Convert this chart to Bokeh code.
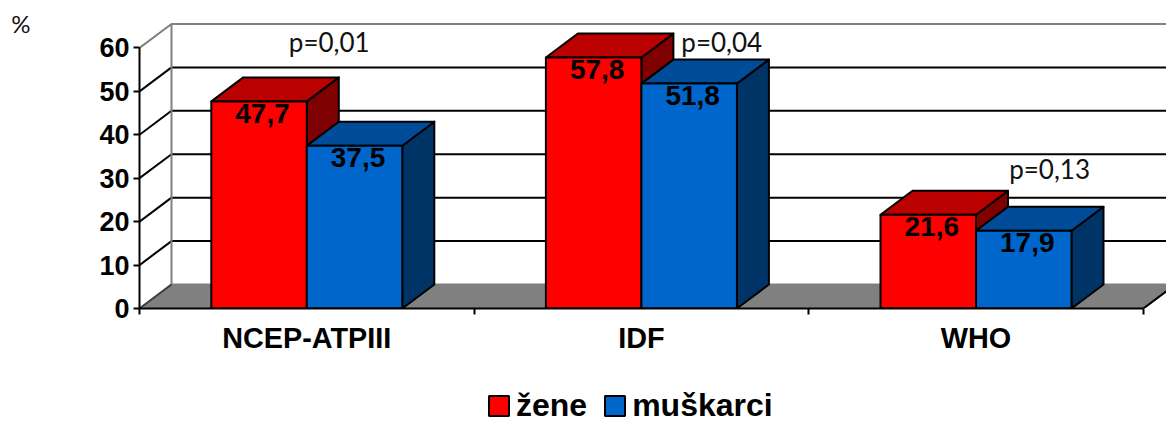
from bokeh.plotting import figure
from bokeh.layouts import column
from bokeh.models import Legend, LegendItem, FixedTicker, ColumnDataSource, LinearAxis
from bokeh.core.properties import value
from bokeh.embed import file_html
from bokeh.resources import INLINE

categories = ["NCEP-ATPIII", "IDF", "WHO"]
zene = [47.7, 57.8, 21.6]
muskarci = [37.5, 51.8, 17.9]
p_values = ["p=0,01", "p=0,04", "p=0,13"]
p_x = [0.567, 1.74, 2.72]
p_y = [61.4, 61.4, 32.2]
y_ticks = [0, 10, 20, 30, 40, 50, 60]
series_names = ["žene", "muškarci"]
series_colors = ["#FF0000", "#0066CC"]
unit_label = "%"
unit_label_at = 65.6

PX_X = 334.6
PX_Y = 4.342
DX = 32 / PX_X
DY = 24 / PX_Y
BAR = 95.5 / PX_X
SANS = "Liberation Sans"

p = figure(width=1166, height=385, output_backend="svg", toolbar_location=None,
           x_range=(0, 1027 / PX_X), y_range=(0, 293 / PX_Y),
           min_border_left=139, min_border_right=0, min_border_top=15, min_border_bottom=77)
p.grid.visible = False
p.outline_line_color = None
p.background_fill_color = "white"
p.border_fill_color = "white"

n = len(categories)
p.patch([0, DX, n + DX, n], [0, DY, DY, 0], fill_color="#808080", line_color="#808080", line_width=2)
inner = y_ticks[1:-1]
p.segment([DX] * len(inner), [v + DY for v in inner], [n + DX] * len(inner), [v + DY for v in inner],
          line_color="black", line_width=2)
p.segment([0] * len(inner), inner, [DX] * len(inner), [v + DY for v in inner], line_color="black", line_width=2)
top = y_ticks[-1]
p.line([0, DX, n + DX], [top, top + DY, top + DY], line_color="#808080", line_width=2)
p.line([DX, DX], [DY, top + DY], line_color="#808080", line_width=2)
p.line([0, DX], [0, DY], line_color="#404040", line_width=2)
p.line([n, n + DX], [0, DY], line_color="black", line_width=2)


def bars(vals, left_fn, front, topc, side):
    sx, sy, tx, ty = [], [], [], []
    l, r, t = [], [], []
    for i, v in enumerate(vals):
        x0 = left_fn(i)
        x1 = x0 + BAR
        sx.append([x1, x1 + DX, x1 + DX, x1])
        sy.append([v, v + DY, DY, 0])
        tx.append([x0, x0 + DX, x1 + DX, x1])
        ty.append([v, v + DY, v + DY, v])
        l.append(x0); r.append(x1); t.append(v)
    p.patches(sx, sy, fill_color=side, line_color="black", line_width=2, line_join="round")
    p.patches(tx, ty, fill_color=topc, line_color="black", line_width=2, line_join="round")
    p.quad(left=l, right=r, top=t, bottom=[0] * len(t), fill_color=front,
           line_color="black", line_width=2)


bars(zene, lambda i: i + 0.5 - BAR, series_colors[0], "#BB0000", "#7F0000")
bars(muskarci, lambda i: i + 0.5, series_colors[1], "#004C99", "#003366")

for vals, shift in ((zene, -BAR / 2), (muskarci, BAR / 2)):
    src = ColumnDataSource(dict(x=[i + 0.5 + shift for i in range(n)], y=vals,
                                t=[f"{v:.1f}".replace(".", ",") for v in vals]))
    p.text("x", "y", text="t", source=src, text_align="center", text_baseline="middle",
           x_offset=3.5, y_offset=12, text_font=value(SANS), text_font_style="bold",
           text_font_size="28px", text_color="black")

p.text(p_x, p_y, text=p_values, text_align="center", text_baseline="middle",
       text_font=value("Lato"), text_font_size="26px", text_color="#111111")

ya = p.yaxis[0]
ya.ticker = FixedTicker(ticks=y_ticks)
ya.bounds = (y_ticks[0], y_ticks[-1])
ya.axis_line_color = "black"; ya.axis_line_width = 2
ya.major_tick_line_color = "black"; ya.major_tick_line_width = 2
ya.major_tick_out = 6; ya.major_tick_in = 0
ya.minor_tick_line_color = None
ya.major_label_text_font = SANS; ya.major_label_text_font_style = "bold"
ya.major_label_text_font_size = "27px"; ya.major_label_text_color = "black"
ya.major_label_standoff = 4

ua = LinearAxis(ticker=FixedTicker(ticks=[unit_label_at]),
                major_label_overrides={unit_label_at: unit_label},
                axis_line_color=None, major_tick_line_color=None, minor_tick_line_color=None,
                major_label_text_font="Lato", major_label_text_font_size="24px",
                major_label_text_color="#111111", major_label_standoff=60)
p.add_layout(ua, "left")

xa = p.xaxis[0]
centers = [i + 0.5 for i in range(n)]
xa.ticker = FixedTicker(ticks=centers, minor_ticks=list(range(n + 1)))
xa.major_label_overrides = dict(zip(centers, categories))
xa.bounds = (0, n)
xa.axis_line_color = "black"; xa.axis_line_width = 2
xa.major_tick_line_color = None
xa.minor_tick_line_color = "black"; xa.minor_tick_line_width = 2
xa.minor_tick_out = 6; xa.minor_tick_in = 0
xa.major_label_text_font = SANS; xa.major_label_text_font_style = "bold"
xa.major_label_text_font_size = "28.8px"; xa.major_label_text_color = "black"
xa.major_label_standoff = 7

# legend strip under the plot; its keys come from marks that lie outside its range
lf = figure(width=1166, height=38, output_backend="svg", toolbar_location=None,
            x_axis_type=None, y_axis_type=None, x_range=(0, 1), y_range=(0, 1),
            min_border=0, min_border_left=0, min_border_right=0, min_border_top=0, min_border_bottom=0)
lf.grid.visible = False
lf.outline_line_color = None
lf.border_fill_color = "white"
items = []
for name, col in zip(series_names, series_colors):
    r = lf.quad(left=[2], right=[3], top=[3], bottom=[2], fill_color=col, line_color="black", line_width=2)
    items.append(LegendItem(label=name, renderers=[r]))
legend = Legend(items=items, orientation="horizontal", location=(347, -1),
                glyph_width=25, glyph_height=25, label_standoff=5, spacing=15,
                padding=0, margin=0, background_fill_alpha=0, border_line_color=None,
                label_text_font=SANS, label_text_font_style="bold", label_text_font_size="32px",
                label_text_color="black", label_height=25)
lf.add_layout(legend, "center")

open("out.html", "w").write(file_html(column(p, lf, spacing=0), INLINE))
